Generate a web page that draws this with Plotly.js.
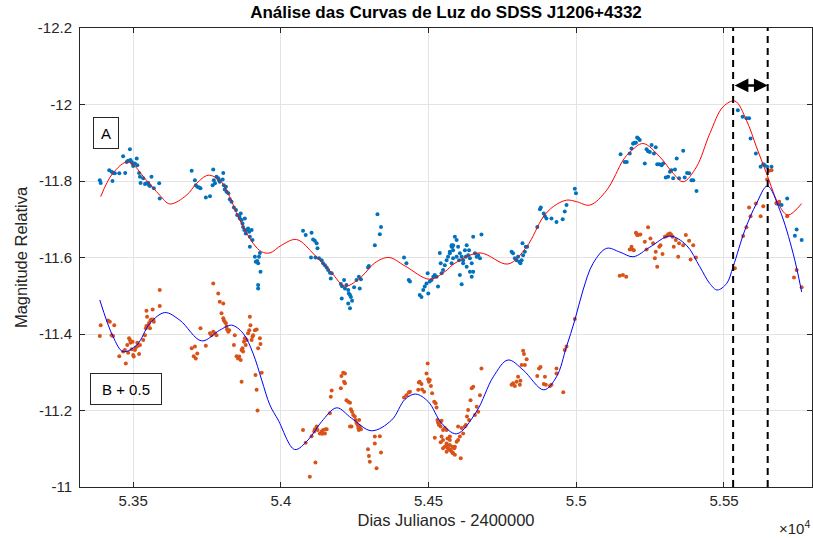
<!DOCTYPE html>
<html>
<head>
<meta charset="utf-8">
<script src="https://cdn.plot.ly/plotly-3.0.1.min.js"></script>
<style>html,body{margin:0;padding:0;background:#fff;}#chart{width:813px;height:538px;}</style>
</head>
<body>
<div id="chart"></div>
<script>
// ---- Data ----
const xTickVals = [53500, 54000, 54500, 55000, 55500];
const xTickText = ['5.35', '5.4', '5.45', '5.5', '5.55'];
const yTickVals = [-12.2, -12, -11.8, -11.6, -11.4, -11.2, -11];
const yTickText = ['-12.2', '-12', '-11.8', '-11.6', '-11.4', '-11.2', '-11'];

// Image A observations (blue dots)
const blueX = [
 53387,53390,53419,53427,53432,53430,53438,53453,53466,53473,53478,53483,53489,53491,53495,53498,53500,53506,53512,53514,53520,53523,53525,53534,53540,53545,53551,53554,53557,53562,53570,53588,53590,
 53698,53709,53712,53717,53723,53728,53746,53760,53769,53771,53773,53777,53782,53788,53791,53793,53803,53805,53807,53810,53814,53816,53822,53827,53833,53841,53848,53852,53859,53861,53864,53867,53870,53872,53876,53878,53881,53884,53889,53893,53895,53901,53904,53895,53912,53915,53920,53923,53926,53929,53931,53923,53923,
 54075,54084,54104,54109,54115,54121,54124,54117,54102,54129,54138,54143,54149,54155,54160,54166,54172,54169,54203,54207,54214,54217,54222,54228,54230,54234,54237,54241,54228,54234,54206,54248,54256,54264,54267,54271,54295,54298,54318,54327,54335,54339,
 54417,54425,54433,54437,54470,54476,54482,54487,54493,54497,54499,54504,54510,54516,54521,54527,54532,54538,54541,54544,54549,54555,54561,54566,54572,54578,54583,
 54578,54583,54589,54595,54600,54606,54612,54617,54623,54629,54634,54640,54646,54651,54657,54663,54668,54679,54606,54612,54640,54646,54651,54629,54617,54595,54583,54578,54572,54581,54603,54626,54637,54674,
 54781,54786,54792,54798,54803,54807,54811,54815,54818,54820,54826,54829,54834,
 54868,54877,54880,54890,54894,54899,54916,54933,54954,54961,54967,54995,54999,
 55150,55164,55171,55181,55187,55193,55202,55210,
 55193,55198,55206,55215,55232,55238,55243,55249,55255,55263,55269,55274,55281,55289,55294,55303,55311,55317,55322,55328,55334,55340,55348,55362,55367,55375,55382,55390,55396,55407,
 55547,55563,55576,55585,55590,55608,55624,55633,55638,55646,55661,55678,55687,55695,55714,55746,55740,55763
];
const blueY = [
 -11.802,-11.795,-11.828,-11.824,-11.821,-11.800,-11.820,-11.820,-11.865,-11.821,-11.850,-11.853,-11.883,-11.855,-11.850,-11.846,-11.839,-11.846,-11.859,-11.841,-11.821,-11.811,-11.795,-11.807,-11.792,-11.794,-11.795,-11.789,-11.787,-11.811,-11.781,-11.794,-11.754,
 -11.827,-11.802,-11.789,-11.785,-11.783,-11.781,-11.757,-11.760,-11.789,-11.830,-11.802,-11.794,-11.811,-11.807,-11.802,-11.798,-11.804,-11.821,-11.789,-11.778,-11.785,-11.772,-11.768,-11.752,-11.746,-11.731,-11.724,-11.711,-11.708,-11.702,-11.715,-11.698,-11.689,-11.680,-11.672,-11.702,-11.663,-11.672,-11.676,-11.667,-11.654,-11.672,-11.646,-11.628,-11.602,-11.589,-11.591,-11.585,-11.602,-11.612,-11.563,-11.528,-11.519,
 -11.670,-11.659,-11.665,-11.647,-11.644,-11.637,-11.624,-11.600,-11.600,-11.598,-11.593,-11.585,-11.580,-11.574,-11.567,-11.560,-11.559,-11.545,-11.531,-11.525,-11.541,-11.519,-11.528,-11.515,-11.506,-11.502,-11.497,-11.487,-11.480,-11.467,-11.493,-11.522,-11.541,-11.550,-11.519,-11.543,-11.574,-11.578,-11.632,-11.713,-11.661,-11.680,
 -11.600,-11.585,-11.541,-11.537,-11.502,-11.497,-11.515,-11.524,-11.532,-11.559,-11.506,-11.537,-11.541,-11.550,-11.554,-11.550,-11.524,-11.612,-11.585,-11.559,-11.567,-11.580,-11.593,-11.602,-11.615,-11.628,-11.632,
 -11.632,-11.619,-11.654,-11.646,-11.628,-11.611,-11.602,-11.593,-11.619,-11.632,-11.606,-11.598,-11.585,-11.654,-11.611,-11.602,-11.606,-11.660,-11.554,-11.530,-11.563,-11.550,-11.563,-11.576,-11.585,-11.602,-11.598,-11.585,-11.611,-11.628,-11.593,-11.602,-11.619,-11.598,
 -11.615,-11.611,-11.598,-11.593,-11.602,-11.589,-11.585,-11.593,-11.637,-11.606,-11.615,-11.628,-11.628,
 -11.680,-11.726,-11.731,-11.715,-11.708,-11.702,-11.702,-11.693,-11.700,-11.720,-11.737,-11.780,-11.768,
 -11.870,-11.850,-11.850,-11.872,-11.885,-11.898,-11.900,-11.911,
 -11.898,-11.900,-11.914,-11.907,-11.846,-11.883,-11.878,-11.876,-11.894,-11.872,-11.888,-11.844,-11.844,-11.841,-11.846,-11.809,-11.811,-11.824,-11.828,-11.807,-11.830,-11.859,-11.807,-11.879,-11.809,-11.821,-11.820,-11.802,-11.802,-11.774,
 -11.985,-11.968,-11.964,-11.964,-11.911,-11.872,-11.837,-11.844,-11.841,-11.837,-11.837,-11.741,-11.740,-11.737,-11.754,-11.673,-11.657,-11.646
];

// Image B + 0.5 observations (orange dots)
const orangeX = [
 53387,53390,53415,53421,53427,53432,53436,53453,53466,53472,53475,53480,53483,53486,53489,53491,53495,53498,53500,53502,53506,53509,53514,53517,53520,53523,53534,53540,53543,53545,53547,53551,53554,53557,53559,53562,53566,53568,53570,53545,53590,53590,
 53698,53709,53705,53712,53717,53728,53746,53760,53765,53771,53777,53782,53771,53788,53793,53805,53799,53805,53807,53810,53814,53816,53818,53822,53825,53841,53844,53850,53855,53859,53864,53867,53870,53872,53875,53878,53881,53884,53889,53893,53895,53897,53901,53904,53906,53912,53918,53923,53929,53931,53935,53914,53918,53921,53867,
 54075,54084,54098,54117,54104,54113,54115,54121,54124,54132,54138,54140,54143,54149,54151,54155,54166,54169,54172,54203,54205,54211,54217,54214,54217,54222,54228,54234,54237,54241,54245,54250,54253,54234,54239,54256,54260,54262,54264,54267,54271,54265,54295,54298,54301,54318,54324,54335,54339,54318,
 54417,54425,54433,54437,54465,54467,54470,54476,54478,54485,54493,54497,54499,54501,54504,54508,54512,54519,54524,54527,54530,54532,54535,54538,54541,54544,54549,54555,54561,54521,54541,54549,54555,54561,54566,54572,54575,54580,54583,54587,54564,54572,
 54589,54595,54600,54606,54609,54617,54623,54626,54630,54634,54637,54642,54646,54651,54657,54663,54668,54674,54679,
 54583,54578,54572,54561,54566,54549,54561,54589,54600,54612,54572,54544,
 54781,54786,54792,54798,54803,54809,54811,54815,54820,54823,54826,54832,54868,54874,54879,54894,54890,54897,54911,54916,54933,54933,54956,54961,54967,54995,
 55147,55158,55169,55187,55190,55181,55202,55206,
 55195,55204,55209,55217,55232,55238,55243,55251,55260,55266,55269,55274,55281,55285,55292,55300,55306,55311,55317,55322,55326,55330,55337,55345,55348,55362,55371,55382,55387,55396,55405,
 55537,55565,55576,55585,55590,55608,55624,55633,55646,55653,55661,55678,55687,55714,55746,55737,55763
];
const orangeY = [
 -11.395,-11.423,-11.435,-11.432,-11.397,-11.395,-11.423,-11.342,-11.354,-11.358,-11.323,-11.371,-11.351,-11.389,-11.384,-11.377,-11.360,-11.380,-11.345,-11.341,-11.358,-11.365,-11.377,-11.369,-11.348,-11.371,-11.384,-11.397,-11.415,-11.421,-11.445,-11.423,-11.429,-11.415,-11.436,-11.438,-11.464,-11.438,-11.432,-11.461,-11.473,-11.515,
 -11.363,-11.367,-11.342,-11.336,-11.349,-11.415,-11.369,-11.402,-11.397,-11.406,-11.402,-11.397,-11.532,-11.506,-11.484,-11.480,-11.454,-11.441,-11.436,-11.432,-11.428,-11.419,-11.412,-11.406,-11.410,-11.371,-11.397,-11.342,-11.336,-11.341,-11.332,-11.358,-11.363,-11.354,-11.380,-11.389,-11.371,-11.384,-11.402,-11.410,-11.445,-11.423,-11.384,-11.393,-11.397,-11.410,-11.412,-11.363,-11.389,-11.374,-11.299,-11.293,-11.254,-11.200,-11.275,
 -11.149,-11.116,-11.027,-11.064,-11.133,-11.145,-11.151,-11.158,-11.149,-11.140,-11.145,-11.139,-11.149,-11.140,-11.151,-11.151,-11.193,-11.236,-11.252,-11.258,-11.290,-11.299,-11.297,-11.275,-11.271,-11.227,-11.223,-11.220,-11.203,-11.197,-11.188,-11.184,-11.175,-11.158,-11.158,-11.167,-11.162,-11.154,-11.149,-11.158,-11.151,-11.175,-11.099,-11.081,-11.066,-11.132,-11.049,-11.133,-11.090,-11.114,
 -11.234,-11.240,-11.247,-11.249,-11.254,-11.273,-11.275,-11.269,-11.255,-11.249,-11.297,-11.323,-11.282,-11.275,-11.280,-11.264,-11.245,-11.223,-11.219,-11.208,-11.175,-11.168,-11.162,-11.167,-11.158,-11.173,-11.149,-11.154,-11.149,-11.129,-11.117,-11.123,-11.105,-11.114,-11.101,-11.110,-11.097,-11.105,-11.088,-11.101,-11.127,-11.132,
 -11.105,-11.118,-11.123,-11.132,-11.075,-11.140,-11.158,-11.162,-11.184,-11.201,-11.175,-11.227,-11.258,-11.262,-11.188,-11.210,-11.197,-11.240,-11.310,
 -11.088,-11.092,-11.097,-11.110,-11.101,-11.101,-11.092,-11.084,-11.158,-11.154,-11.123,-11.132,
 -11.267,-11.271,-11.264,-11.275,-11.288,-11.267,-11.278,-11.319,-11.356,-11.348,-11.319,-11.334,-11.290,-11.310,-11.314,-11.288,-11.269,-11.267,-11.264,-11.267,-11.310,-11.297,-11.248,-11.358,-11.367,-11.439,
 -11.552,-11.554,-11.550,-11.628,-11.621,-11.621,-11.665,-11.659,
 -11.619,-11.663,-11.659,-11.660,-11.641,-11.621,-11.679,-11.650,-11.637,-11.598,-11.615,-11.576,-11.628,-11.632,-11.609,-11.654,-11.656,-11.661,-11.663,-11.659,-11.654,-11.628,-11.646,-11.602,-11.637,-11.632,-11.659,-11.644,-11.595,-11.632,-11.600,
 -11.572,-11.656,-11.679,-11.731,-11.708,-11.741,-11.708,-11.734,-11.804,-11.827,-11.828,-11.743,-11.746,-11.708,-11.567,-11.548,-11.522
];

// Fitted curve for A (red)
const fitAX = [53390,53431,53483,53545,53590,53624,53681,53715,53754,53793,53816,53861,53906,53935,53963,54002,54053,54115,54172,54217,54273,54318,54366,54420,54504,54555,54589,54674,54769,54832,54888,54922,54967,55001,55046,55103,55159,55181,55226,55283,55328,55362,55407,55452,55497,55537,55576,55610,55644,55689,55717,55763];
const fitAY = [-11.759,-11.820,-11.850,-11.802,-11.763,-11.740,-11.763,-11.794,-11.815,-11.802,-11.776,-11.698,-11.637,-11.615,-11.612,-11.632,-11.647,-11.606,-11.560,-11.525,-11.550,-11.586,-11.600,-11.578,-11.543,-11.563,-11.585,-11.612,-11.583,-11.628,-11.706,-11.733,-11.750,-11.746,-11.737,-11.776,-11.855,-11.875,-11.898,-11.863,-11.820,-11.798,-11.837,-11.924,-11.994,-12.009,-11.959,-11.889,-11.820,-11.733,-11.711,-11.741];

// Fitted curve for B + 0.5 (blue)
const fitBX = [53387,53432,53466,53512,53557,53607,53658,53732,53793,53833,53872,53906,53935,53963,53991,54047,54092,54138,54189,54239,54307,54375,54420,54456,54499,54544,54595,54662,54719,54769,54820,54890,54933,54967,54995,55023,55057,55103,55148,55193,55249,55317,55373,55418,55452,55477,55509,55531,55571,55610,55647,55689,55734,55763];
const fitBY = [-11.489,-11.393,-11.354,-11.371,-11.428,-11.456,-11.436,-11.382,-11.410,-11.423,-11.402,-11.349,-11.280,-11.214,-11.175,-11.098,-11.123,-11.171,-11.207,-11.180,-11.147,-11.175,-11.229,-11.243,-11.223,-11.167,-11.139,-11.197,-11.288,-11.332,-11.306,-11.254,-11.288,-11.367,-11.436,-11.515,-11.585,-11.624,-11.614,-11.602,-11.627,-11.656,-11.632,-11.576,-11.532,-11.515,-11.532,-11.576,-11.672,-11.741,-11.787,-11.724,-11.611,-11.510];

// Time-delay markers
const lagMarks = [55531, 55648];
const lagArrowY = [-12.05];

// ---- Chart ----
const FONT = 'Liberation Sans, Arial, Helvetica, sans-serif';
const INK = '#262626';

const traces = [
  {x: blueX, y: blueY, type: 'scatter', mode: 'markers', marker: {color: '#0072BD', size: 4}, hoverinfo: 'skip'},
  {x: orangeX, y: orangeY, type: 'scatter', mode: 'markers', marker: {color: '#D95319', size: 4}, hoverinfo: 'skip'},
  {x: fitAX, y: fitAY, type: 'scatter', mode: 'lines', line: {color: '#FF0000', width: 1, shape: 'spline', smoothing: 1}, hoverinfo: 'skip'},
  {x: fitBX, y: fitBY, type: 'scatter', mode: 'lines', line: {color: '#0000FF', width: 1, shape: 'spline', smoothing: 1}, hoverinfo: 'skip'}
];

const shapes = lagMarks.map(v => ({
  type: 'line', xref: 'x', yref: 'paper', x0: v, x1: v, y0: 0, y1: 1,
  line: {color: '#000000', width: 2, dash: '7px,5px'}
}));

const annotations = [
  {xref: 'paper', yref: 'paper', x: 0.036, y: 0.772, xanchor: 'center', yanchor: 'middle', text: 'A', showarrow: false,
   font: {family: FONT, size: 15, color: '#000'}, bordercolor: INK, borderwidth: 1, borderpad: 6,
   width: 12, height: 18, bgcolor: 'rgba(0,0,0,0)'},
  {xref: 'paper', yref: 'paper', x: 0.0631, y: 0.214, xanchor: 'center', yanchor: 'middle', text: 'B + 0.5', showarrow: false,
   font: {family: FONT, size: 15, color: '#000'}, bordercolor: INK, borderwidth: 1, borderpad: 6,
   width: 58, height: 18, bgcolor: 'rgba(0,0,0,0)'},
  {xref: 'x', yref: 'y', x: lagMarks[1], y: lagArrowY[0], ax: lagMarks[0], ay: lagArrowY[0],
   axref: 'x', ayref: 'y', text: '', showarrow: true, arrowside: 'end+start', arrowhead: 2,
   arrowsize: 1.1, arrowwidth: 2.5, arrowcolor: '#000'},
  {xref: 'paper', yref: 'paper', x: 1, y: -0.088, xanchor: 'right', yanchor: 'middle',
   text: '×10<sup>4</sup>', showarrow: false, font: {family: FONT, size: 15, color: INK}}
];

const axisCommon = {
  showline: true, linecolor: INK, linewidth: 1, mirror: 'ticks',
  ticks: 'inside', ticklen: 5, tickcolor: INK, tickwidth: 1,
  showgrid: true, gridcolor: '#e3e3e3', gridwidth: 1, zeroline: false,
  tickfont: {family: FONT, size: 15, color: INK}
};

const layout = {
  width: 813, height: 538,
  margin: {l: 80, r: 1, t: 28, b: 51},
  paper_bgcolor: '#ffffff', plot_bgcolor: '#ffffff',
  showlegend: false,
  title: {text: '<b>Análise das Curvas de Luz do SDSS J1206+4332</b>', xref: 'paper', x: 0.5, xanchor: 'center',
          yref: 'container', y: 0.977, yanchor: 'middle', font: {family: FONT, size: 17, color: '#000'}},
  xaxis: Object.assign({}, axisCommon, {
    range: [53320, 55798], tickmode: 'array', tickvals: xTickVals, ticktext: xTickText,
    title: {text: 'Dias Julianos - 2400000', font: {family: FONT, size: 16.5, color: INK}, standoff: 6}
  }),
  yaxis: Object.assign({}, axisCommon, {
    range: [-11, -12.2], tickmode: 'array', tickvals: yTickVals, ticktext: yTickText,
    ticklabelstandoff: 4,
    title: {text: 'Magnitude Relativa', font: {family: FONT, size: 16.5, color: INK}, standoff: 6}
  }),
  shapes: shapes,
  annotations: annotations
};

Plotly.newPlot('chart', traces, layout, {displayModeBar: false, staticPlot: true});
</script>
</body>
</html>
